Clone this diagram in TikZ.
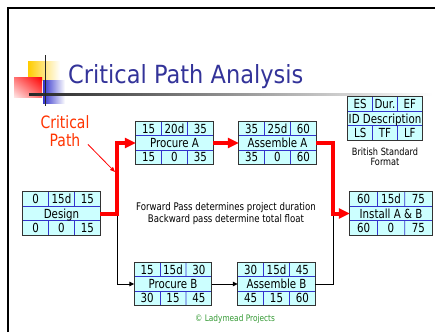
\documentclass[tikz,border=0pt]{standalone}
\usepackage{fontspec}
\newfontfamily\slidefont[FakeStretch=0.82]{DejaVu Sans}
\newfontfamily\titlefont[FakeStretch=0.9]{DejaVu Sans}
\usetikzlibrary{calc,arrows.meta,shadings}

\definecolor{cellfill}{HTML}{CCFFFF}
\definecolor{cellblue}{HTML}{3333CC}
\definecolor{titleblue}{HTML}{333399}
\definecolor{critred}{HTML}{FF0000}
\definecolor{labelred}{HTML}{FF3300}
\definecolor{logoyellow}{HTML}{FFCC00}
\definecolor{copygreen}{HTML}{339933}

\tikzstyle{activity box} = [fill=cellfill, minimum width=77pt, minimum height=43pt, inner sep=0]
\tikzstyle{activity outline} = [draw=black!80, line width=0.8pt]
\tikzstyle{cell line} = [draw=cellblue, line width=0.8pt]
\tikzstyle{cell text} = [inner sep=0, text height=9pt, text depth=0pt, font=\slidefont\fontsize{12.5}{14}\selectfont]
\tikzstyle{crit path} = [draw=critred, line width=4pt, -{Triangle[length=11pt,width=10pt]}]
\tikzstyle{plain path} = [draw=black, line width=1pt, -{Triangle[length=5pt,width=4.5pt]}]
\tikzstyle{pointer} = [draw=critred, line width=0.8pt, -{Triangle[length=5pt,width=4pt]}]

% activity box: name, placement, ES, Dur, EF, description, LS, TF, LF
\newcommand{\activity}[9]{%
    \node[activity box, #2] (#1) {};
    % rows
    \draw[cell line] ($(#1.north west)!1/3!(#1.south west)$) -- ($(#1.north east)!1/3!(#1.south east)$);
    \draw[cell line] ($(#1.north west)!2/3!(#1.south west)$) -- ($(#1.north east)!2/3!(#1.south east)$);
    % columns of top and bottom rows
    \draw[cell line] ($(#1.north west)!1/3!(#1.north east)$) -- ($(#1.north west)!1/3!(#1.south east)$);
    \draw[cell line] ($(#1.north west)!2/3!(#1.north east)$) -- ($(#1.north east)!1/3!(#1.south west)$);
    \draw[cell line] ($(#1.south west)!1/3!(#1.south east)$) -- ($(#1.south west)!1/3!(#1.north east)$);
    \draw[cell line] ($(#1.south west)!2/3!(#1.south east)$) -- ($(#1.south east)!1/3!(#1.north west)$);
    \draw[activity outline] (#1.north west) rectangle (#1.south east);
    % texts
    \node[cell text] at ($(#1.north west)!1/6!(#1.south east)$) {#3};
    \node[cell text] at ($(#1.north)!1/6!(#1.south)$) {#4};
    \node[cell text] at ($(#1.north east)!1/6!(#1.south west)$) {#5};
    \node[cell text] at (#1.center) {#6};
    \node[cell text] at ($(#1.south west)!1/6!(#1.north east)$) {#7};
    \node[cell text] at ($(#1.south)!1/6!(#1.north)$) {#8};
    \node[cell text] at ($(#1.south east)!1/6!(#1.north west)$) {#9};
}

\begin{document}
\begin{tikzpicture}[x=1pt, y=-1pt, font=\slidefont]
    \useasboundingbox (0,0) rectangle (435,332);

    % Slide frame
    \draw[line width=2.5pt] (8,332) -- (8,8) -- (435,8);

    % Title logo
    \shade[left color=logoyellow, middle color=logoyellow, right color=white] (28,61) rectangle (60,80);
    \shade[left color=cellblue, middle color=cellblue, right color=white] (43,80) rectangle (65,103);
    \shade[upper right=red, upper left=red!55, lower right=red!60, lower left=red!10] (14,77) rectangle (42,97);
    \shade[left color=black!85, right color=white] (29,93) rectangle (432,95.5);
    \draw[line width=1.5pt, black!85] (45.5,55) -- (45.5,106);

    % Title
    \node[anchor=base west, inner sep=0, text=titleblue, font=\titlefont\fontsize{25}{30}\selectfont] (title) at (68,83) {Critical Path Analysis};

    % Activities
    \activity{design}{at={(61.5,213.5)}}{0}{15d}{15}{Design}{0}{0}{15}
    \activity{procA}{at={(174.5,143)}}{15}{20d}{35}{Procure A}{15}{0}{35}
    \activity{asmA}{at={(277.5,143)}}{35}{25d}{60}{Assemble A}{35}{0}{60}
    \activity{install}{at={(391,213.5)}, minimum width=82pt}{60}{15d}{75}{Install A \& B}{60}{0}{75}
    \activity{procB}{at={(173,284)}}{15}{15d}{30}{Procure B}{30}{15}{45}
    \activity{asmB}{at={(276.5,284)}}{30}{15d}{45}{Assemble B}{45}{15}{60}

    % Key to the boxes
    \activity{key}{at={(385,118.5)}, minimum width=74pt}{ES}{Dur.}{EF}{ID Description}{LS}{TF}{LF}
    \node[align=center, font=\slidefont\fontsize{10}{10.5}\selectfont] (keynote) at (385,157) {British Standard\\Format};

    % Branch points
    \coordinate (split) at (117,213.5);
    \coordinate (merge) at (333,213.5);

    % Non-critical path
    \draw[plain path] (split) |- (procB.west);
    \draw[plain path] (procB.east) -- (asmB.west);
    \draw[plain path, -] (asmB.east) -| (merge);

    % Critical path
    \draw[crit path] (design.east) -- (split) |- (procA.west);
    \draw[crit path] (procA.east) -- (asmA.west);
    \draw[crit path] (asmA.east) -| (merge) -- (install.west);

    % Critical path label
    \node[align=center, text=labelred, font=\slidefont\fontsize{17}{18.5}\selectfont] (critlabel) at (65,131) {Critical\\Path};
    \coordinate (critpoint) at (115,172);
    \draw[pointer] ($(critlabel.south east)+(-5,-6)$) -- (critpoint);

    % Notes
    \node[align=center, font=\slidefont\fontsize{10.5}{12}\selectfont] (passnote) at (226,214) {Forward Pass determines project duration\\Backward pass determine total float};
    \node[text=copygreen, font=\slidefont\fontsize{9}{10}\selectfont] (copyright) at (235,319) {\textcopyright{} Ladymead Projects};
\end{tikzpicture}
\end{document}
